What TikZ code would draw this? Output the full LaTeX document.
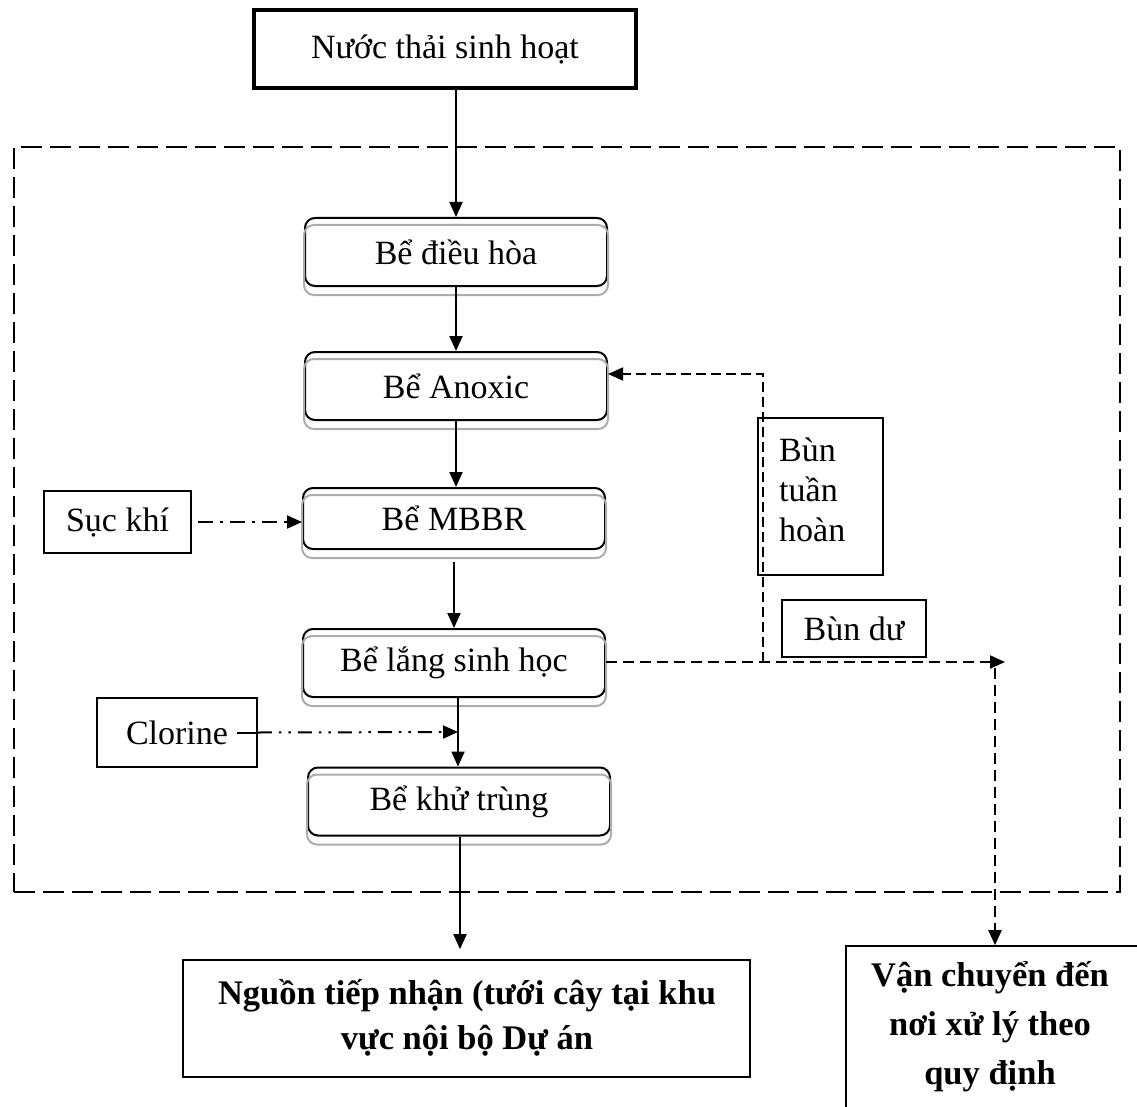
\documentclass[tikz,border=0pt]{standalone}
\usepackage{fontspec}
\setmainfont{Liberation Serif}
\usetikzlibrary{arrows.meta}

\begin{document}
\begin{tikzpicture}[x=1pt,y=-1pt,
  txt/.style={font=\fontsize{34}{40}\selectfont},
  tiphead/.style={-{Triangle[length=15pt,width=13pt]}},
  flow/.style={line width=2.2pt, tiphead},
  sludge/.style={line width=2.2pt, dash pattern=on 11pt off 6pt, tiphead},
  airline/.style={line width=2pt, dash pattern=on 15pt off 7pt on 3pt off 7pt, tiphead},
  dosing/.style={line width=2pt, dash pattern=on 14pt off 7pt on 2.5pt off 7pt on 2.5pt off 7pt, tiphead},
  tank/.style={txt, draw, line width=2pt, rounded corners=10pt, minimum width=302pt, minimum height=68pt},
  tankshadow/.style={draw=gray!65, line width=2pt, rounded corners=10pt},
  plainbox/.style={txt, draw, line width=1.6pt},
  boldtxt/.style={font=\fontsize{34.5}{45}\selectfont\bfseries, align=center}]

\useasboundingbox (0,0) rectangle (1137,1107);

% treatment area boundary
\node[draw, line width=2.6pt, dash pattern=on 21pt off 8pt,
      minimum width=1106pt, minimum height=745pt] (plant) at (567,519.5) {};

% inflow
\node[plainbox, line width=4pt, minimum width=382pt, minimum height=78pt] (inflow) at (445,49) {Nước thải sinh hoạt};

% treatment tanks
\node[tank] (eq) at (456,252) {Bể điều hòa};
\node[tank] (anox) at (456,386) {Bể Anoxic};
\node[tank, minimum height=61pt] (mbbr) at (454,518.5) {Bể MBBR};
\node[tank] (settle) at (454,663) {Bể lắng sinh học};
\node[tank] (disinf) at (459,801.5) {Bể khử trùng};

% grey offset outline under each tank
\foreach \n in {eq,anox,mbbr,settle,disinf}
  \draw[tankshadow] ([yshift=-8pt]\n.north west) rectangle ([yshift=-8pt]\n.south east);

% side inputs
\node[plainbox, minimum width=147pt, minimum height=62pt] (air) at (117.5,522) {Sục khí};
\node[plainbox, minimum width=160pt, minimum height=69pt] (clo) at (177,732.5) {};
\node[txt, inner xsep=9pt] (clotext) at (177,732.5) {Clorine};

% sludge labels
\node[plainbox, minimum width=125pt, minimum height=157pt] (recycle) at (820.5,496.5) {};
\node[txt, align=left, anchor=west, inner sep=0pt] (recycletext) at (779,490)
  {\fontsize{34}{40}\selectfont Bùn\\tuần\\hoàn};
\node[plainbox, minimum width=144pt, minimum height=57pt] (excess) at (854,628.5) {Bùn dư};

% outlets
\node[draw, line width=1.6pt, minimum width=567pt, minimum height=117pt] (recv) at (466.5,1018.5) {};
\node[boldtxt] (recvtext) at (467,1018)
  {Nguồn tiếp nhận (tưới cây tại khu\\vực nội bộ Dự án};
\node[draw, line width=1.6pt, minimum width=310pt, minimum height=175pt] (trans) at (1001,1033.5) {};
\node[boldtxt, font=\fontsize{34.5}{49}\selectfont\bfseries] (transtext) at (990,1027)
  {Vận chuyển đến\\nơi xử lý theo\\quy định};

% helper points
\coordinate (join) at (458,732);
\coordinate (riser) at (763,662);
\coordinate (sludgeend) at (1005,662);
\coordinate (drop) at (995,668);

% main water line
\draw[flow] (inflow.south -| eq.north) -- (eq.north);
\draw[flow] (eq.south) -- (anox.north);
\draw[flow] (anox.south) -- (anox.south |- mbbr.north);
\draw[flow] ([yshift=-12pt]mbbr.south) -- (mbbr.south |- settle.north);
\draw[flow] (settle.south -| join) -- (disinf.north -| join);
\draw[flow] ([xshift=1pt]disinf.south) -- ([xshift=1pt,yshift=10pt]recv.north -| disinf.south);

% dosing lines
\draw[airline] ([xshift=6pt]air.east) -- (mbbr.west |- air.east);
\draw[line width=2pt] (clotext.east) -- (clo.east);
\draw[dosing] (clo.east) -- (join);

% sludge lines
\draw[sludge] (settle.east |- sludgeend) -- (sludgeend);
\draw[line width=1.7pt, dash pattern=on 10pt off 5pt, tiphead] (riser) |- ([yshift=12pt]anox.east);
\draw[sludge] (drop) -- (trans.north -| drop);

\end{tikzpicture}
\end{document}
